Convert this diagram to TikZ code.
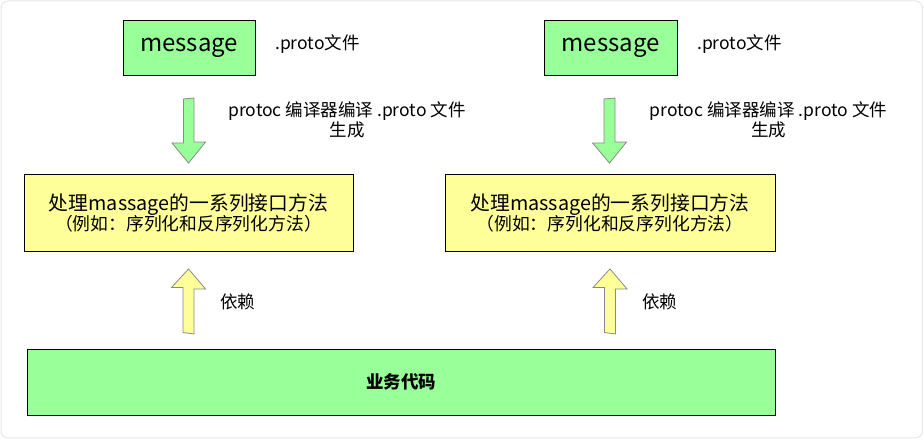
\documentclass[tikz,border=0pt]{standalone}
\usepackage{fontspec}
\setmainfont{Noto Sans CJK SC}
\usetikzlibrary{calc}
\definecolor{boxgreen}{HTML}{99FF99}
\definecolor{boxyellow}{HTML}{FFFF99}
\definecolor{framegray}{HTML}{E4E7EB}
\definecolor{arrowborder}{HTML}{8A8A8A}
\tikzset{
  greenbox/.style={draw=black, line width=0.9pt, fill=boxgreen, inner sep=0pt},
  yellowbox/.style={draw=black, line width=0.9pt, fill=boxyellow, inner sep=0pt, align=center},
  lbl/.style={inner sep=0pt, align=center, font=\fontsize{17.5}{20}\selectfont},
  greenarrow/.style={draw=arrowborder, line width=0.8pt, fill=boxgreen, line join=miter},
  yellowarrow/.style={draw=arrowborder, line width=0.8pt, fill=boxyellow, line join=miter},
}
\begin{document}
\begin{tikzpicture}[x=1pt, y=-1pt]
\useasboundingbox (0,0) rectangle (924,443);
\draw[framegray, line width=1pt, rounded corners=7pt] (1,1) rectangle (922.5,438);

% message boxes
\node[greenbox, minimum width=132pt, minimum height=55pt, font=\fontsize{24}{28}\selectfont] (msgL) at (189,48) {message};
\node[greenbox, minimum width=133pt, minimum height=55pt, font=\fontsize{24}{28}\selectfont] (msgR) at (610.5,48) {message};

\node[lbl, anchor=west] (protoL) at (275,44) {.proto文件};
\node[lbl, anchor=west] (protoR) at (697,44) {.proto文件};

% yellow boxes
\node[yellowbox, minimum width=329pt, minimum height=77pt] (ifL) at (188.5,213)
  {{\fontsize{19.8}{21}\selectfont 处理massage的一系列接口方法}\\[-1pt]{\fontsize{17.8}{19}\selectfont （例如：序列化和反序列化方法）}};
\node[yellowbox, minimum width=330pt, minimum height=77pt] (ifR) at (610,213)
  {{\fontsize{19.8}{21}\selectfont 处理massage的一系列接口方法}\\[-1pt]{\fontsize{17.8}{19}\selectfont （例如：序列化和反序列化方法）}};

% compile labels
\node[lbl] (genL) at (347,120) {protoc 编译器编译 .proto 文件\\生成};
\node[lbl] (genR) at (768.5,120) {protoc 编译器编译 .proto 文件\\生成};

% business box
\node[greenbox, minimum width=748pt, minimum height=66pt, font=\fontsize{17.5}{20}\selectfont\bfseries] (biz) at (401,382) {业务代码};

% dependency labels
\node[lbl, anchor=west] (depL) at (220,302) {依赖};
\node[lbl, anchor=west] (depR) at (642,302) {依赖};

% arrow anchor coordinates
\coordinate (dLs) at ($(msgL.south)+(0,23)$);
\coordinate (dLt) at ($(ifL.north)+(0,-11)$);
\coordinate (dRs) at ($(msgR.south)+(-1,23)$);
\coordinate (dRt) at ($(ifR.north)+(-0.5,-11)$);
\coordinate (uLs) at (ifL.south |- biz.north);
\coordinate (uLt) at ($(ifL.south)+(0,17)$);
\coordinate (uRs) at (ifR.south |- biz.north);
\coordinate (uRt) at ($(ifR.south)+(0,17)$);

% down block arrows (message -> interface)
\draw[greenarrow] ($(dLs)+(-5.5,0)$) -- ++(0,44) -- ++(-11.5,0) -- (dLt) -- ++(17,-21) -- ++(-11.5,0) -- ++(0,-44) -- cycle;
\draw[greenarrow] ($(dRs)+(-5.5,0)$) -- ++(0,44) -- ++(-11.5,0) -- (dRt) -- ++(17,-21) -- ++(-11.5,0) -- ++(0,-44) -- cycle;

% up block arrows (business -> interface)
\draw[yellowarrow] ($(uLs)+(-5.5,-16)$) -- ++(0,-45) -- ++(-11.5,0) -- (uLt) -- ++(17,20) -- ++(-11.5,0) -- ++(0,45) -- cycle;
\draw[yellowarrow] ($(uRs)+(-5.5,-16)$) -- ++(0,-45) -- ++(-11.5,0) -- (uRt) -- ++(17,20) -- ++(-11.5,0) -- ++(0,45) -- cycle;
\end{tikzpicture}
\end{document}
